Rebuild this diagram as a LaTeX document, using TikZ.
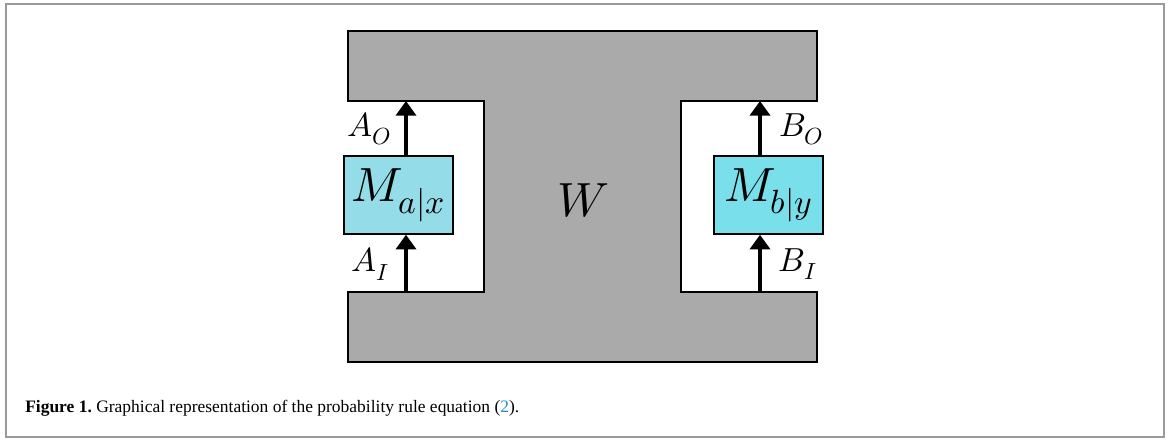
\documentclass[tikz,border=0pt]{standalone}
\usepackage{fontspec}
\setmainfont{Liberation Serif}
\usepackage{unicode-math}
\setmathfont{Latin Modern Math}
\usetikzlibrary{arrows.meta}
\definecolor{wgray}{HTML}{AAAAAA}
\definecolor{mleft}{HTML}{94DCE8}
\definecolor{mright}{HTML}{79DFEB}
\definecolor{framegray}{HTML}{9A9A9A}
\definecolor{linkblue}{HTML}{1F8FC8}
\tikzset{
  mbox/.style={draw=black, line width=1.6pt, minimum width=81.5pt, minimum height=58pt, inner sep=0pt, font=\fontsize{36}{40}\selectfont},
  flow/.style={line width=3pt, -{Triangle[length=11pt,width=15pt]}},
  lbl/.style={font=\fontsize{25}{28}\selectfont, inner sep=0pt},
}
\frenchspacing
\begin{document}
\begin{tikzpicture}[x=0.75pt,y=-0.75pt]
\useasboundingbox (0,0) rectangle (1170,441);
\draw[framegray, line width=1.6pt] (6,4) rectangle (1164,437);
% W shape
\draw[fill=wgray, line width=1.6pt]
  (348,31) -- (817,31) -- (817,101) -- (681,101) -- (681,292) -- (817,292) -- (817,362)
  -- (348,362) -- (348,292) -- (484,292) -- (484,101) -- (348,101) -- cycle;
\node[font=\fontsize{36}{40}\selectfont] (W) at (583,201) {$W$};
% measurement boxes
\node[mbox, fill=mleft] (Ma) at (398.5,195) {$M_{a|x}$};
\node[mbox, fill=mright] (Mb) at (768.5,195) {$M_{b|y}$};
% attachment points
\coordinate (aout) at (406,101);
\coordinate (ain) at (406,292);
\coordinate (bout) at (760,101);
\coordinate (bin) at (760,292);
\draw[flow] (Ma.north -| aout) -- (aout);
\draw[flow] (ain) -- (Ma.south -| ain);
\draw[flow] (Mb.north -| bout) -- (bout);
\draw[flow] (bin) -- (Mb.south -| bin);
\node[lbl] (AO) at (369,129) {$A_O$};
\node[lbl] (AI) at (370,264) {$A_I$};
\node[lbl] (BO) at (801,129) {$B_O$};
\node[lbl] (BI) at (798,264) {$B_I$};
% caption
\node[anchor=base west, inner sep=0pt, font=\fontsize{13.1}{15}\selectfont] (cap) at (25,412)
  {\textbf{Figure 1.} Graphical representation of the probability rule equation (\textcolor{linkblue}{2}).};
\end{tikzpicture}
\end{document}
